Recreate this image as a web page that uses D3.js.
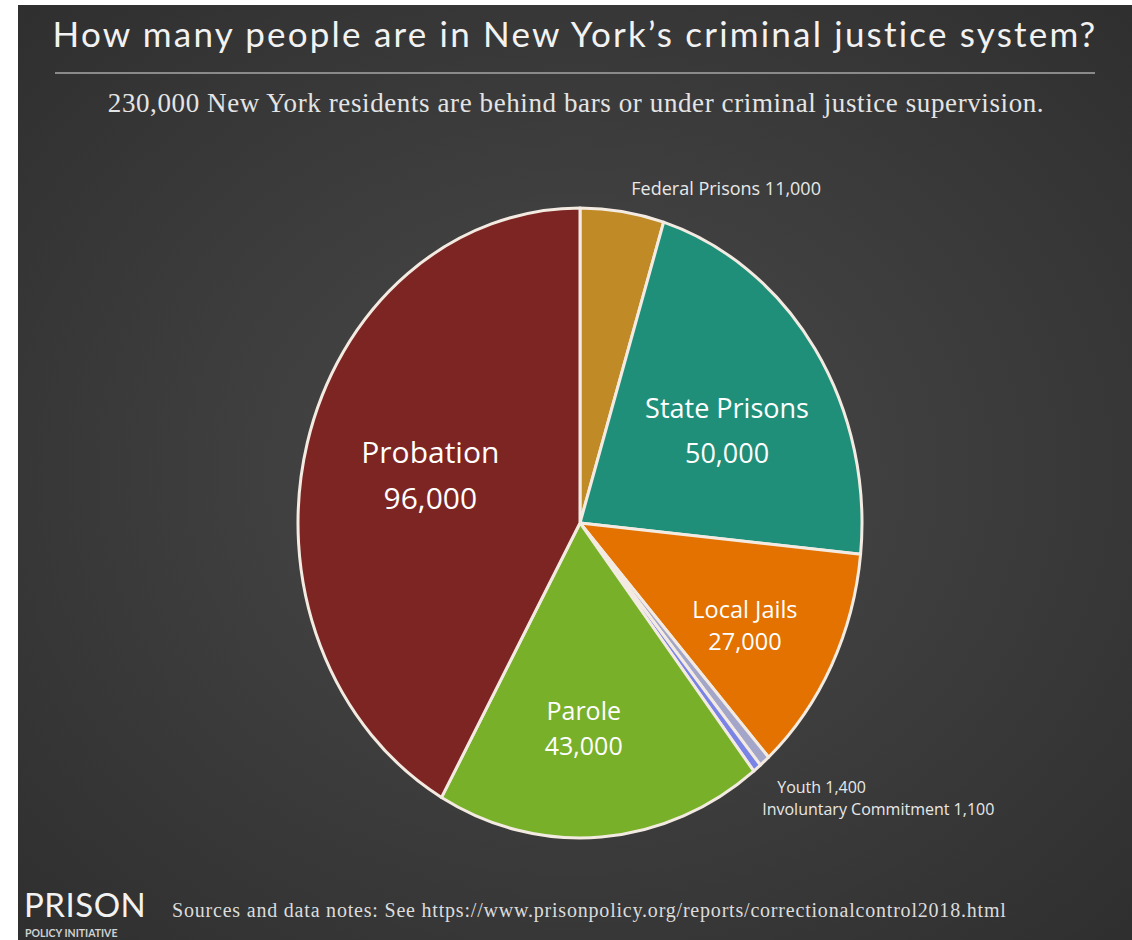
<!DOCTYPE html>
<html>
<head>
<meta charset="utf-8">
<script src="https://cdn.jsdelivr.net/npm/d3@7"></script>
<style>
  body { margin: 0; background: #ffffff; }
  svg { display: block; }
</style>
</head>
<body>
<script>
// data
var categories = ["Federal Prisons", "State Prisons", "Local Jails", "Youth", "Involuntary Commitment", "Parole", "Probation"];
var values = [11000, 50000, 27000, 1400, 1100, 43000, 96000];
var colors = ["#c08a27", "#1f8f7a", "#e37200", "#a3a6c8", "#7a84e6", "#79b02a", "#7d2522"];

// label styling per slice (null = label drawn outside)
var labelSize = [null, 27, 23.5, null, null, 25, 30];
var labelGap = [null, 45, 32, null, null, 35, 46];
var labelNudge = [null, [6, 12], [14, 17], null, null, [-9, 17], [14, 0]];

var W = 1132, H = 940;
var cx = 580, cy = 523, rx = 282, ry = 315;

var svg = d3.select("body").append("svg").attr("width", W).attr("height", H);

// background with soft vignette
var defs = svg.append("defs");
var grad = defs.append("radialGradient").attr("id", "bg").attr("cx", "50%").attr("cy", "50%").attr("r", "70%");
grad.append("stop").attr("offset", "0%").attr("stop-color", "#4a4a4a");
grad.append("stop").attr("offset", "100%").attr("stop-color", "#2f2f2f");
svg.append("rect").attr("x", 18).attr("y", 5).attr("width", W - 18).attr("height", H - 5).attr("fill", "url(#bg)");

svg.append("text")
  .attr("x", 575).attr("y", 47)
  .attr("text-anchor", "middle")
  .attr("font-family", "Lato, 'Noto Sans', sans-serif")
  .attr("font-size", 35).attr("letter-spacing", 2.2)
  .attr("fill", "#f2f2f2")
  .text("How many people are in New York\u2019s criminal justice system?");

svg.append("line")
  .attr("x1", 55).attr("x2", 1095).attr("y1", 73).attr("y2", 73)
  .attr("stroke", "#8a8a8a").attr("stroke-width", 2);

svg.append("text")
  .attr("x", 576).attr("y", 112)
  .attr("text-anchor", "middle")
  .attr("font-family", "'Liberation Serif', 'DejaVu Serif', serif")
  .attr("font-size", 27).attr("letter-spacing", 0.6)
  .attr("fill", "#e4e4e4")
  .text("230,000 New York residents are behind bars or under criminal justice supervision.");

// pie: drawn as a circle of radius rx, squeezed vertically into the ellipse
var pie = d3.pie().sort(null).value(function(d) { return d; });
var arcs = pie(values);
var arc = d3.arc().innerRadius(0).outerRadius(rx);
var labelArc = d3.arc().innerRadius(rx * 0.6).outerRadius(rx * 0.6);
var outerArc = d3.arc().innerRadius(rx * 1.02).outerRadius(rx * 1.02);
var sy = ry / rx;

var g = svg.append("g")
  .attr("transform", "translate(" + cx + "," + cy + ") scale(1," + sy + ")");

g.selectAll("path")
  .data(arcs)
  .enter().append("path")
  .attr("d", arc)
  .attr("fill", function(d, i) { return colors[i]; })
  .attr("stroke", "#f3ebe2")
  .attr("stroke-width", 3)
  .attr("vector-effect", "non-scaling-stroke")
  .attr("stroke-linejoin", "round");

var fmt = d3.format(",");
var labelFont = "'Open Sans', 'Noto Sans', sans-serif";

// big labels inside slices
arcs.forEach(function(d, i) {
  if (!labelSize[i]) return;
  var c = labelArc.centroid(d);
  var x = cx + c[0] + labelNudge[i][0];
  var mid = cy + c[1] * sy + labelNudge[i][1];
  var cap = labelSize[i] * 0.714;
  var b1 = mid - (labelGap[i] - cap) / 2;
  var t = svg.append("text")
    .attr("text-anchor", "middle")
    .attr("font-family", labelFont)
    .attr("font-size", labelSize[i])
    .attr("fill", "#ffffff");
  t.append("tspan").attr("x", x).attr("y", b1).text(categories[i]);
  t.append("tspan").attr("x", x).attr("y", b1 + labelGap[i]).text(fmt(values[i]));
});

// small outside labels
var p0 = outerArc.centroid(arcs[0]);
svg.append("text")
  .attr("x", cx + p0[0] + 103).attr("y", cy + p0[1] * sy - 10)
  .attr("text-anchor", "middle")
  .attr("font-family", labelFont).attr("font-size", 18)
  .attr("fill", "#e8e8e8")
  .text(categories[0] + " " + fmt(values[0]));

var p3 = outerArc.centroid(arcs[3]);
svg.append("text")
  .attr("x", cx + p3[0] + 9).attr("y", cy + p3[1] * sy + 27)
  .attr("font-family", labelFont).attr("font-size", 16)
  .attr("fill", "#e8e8e8")
  .text(categories[3] + " " + fmt(values[3]));
svg.append("text")
  .attr("x", cx + p3[0] - 6).attr("y", cy + p3[1] * sy + 49)
  .attr("font-family", labelFont).attr("font-size", 16)
  .attr("fill", "#e8e8e8")
  .text(categories[4] + " " + fmt(values[4]));

// footer
svg.append("text")
  .attr("x", 24).attr("y", 917)
  .attr("font-family", "Lato, 'Noto Sans', sans-serif")
  .attr("font-size", 33).attr("letter-spacing", 0.5)
  .attr("fill", "#f2f2f2")
  .text("PRISON");
svg.append("text")
  .attr("x", 25).attr("y", 937)
  .attr("font-family", "Lato, 'Noto Sans', sans-serif")
  .attr("font-size", 10.5).attr("font-weight", "bold")
  .attr("fill", "#d0d0d0")
  .text("POLICY INITIATIVE");

svg.append("text")
  .attr("x", 172).attr("y", 917)
  .attr("font-family", "'Liberation Serif', 'DejaVu Serif', serif")
  .attr("font-size", 20).attr("letter-spacing", 0.8)
  .attr("fill", "#dcdcdc")
  .text("Sources and data notes: See https://www.prisonpolicy.org/reports/correctionalcontrol2018.html");
</script>
</body>
</html>
